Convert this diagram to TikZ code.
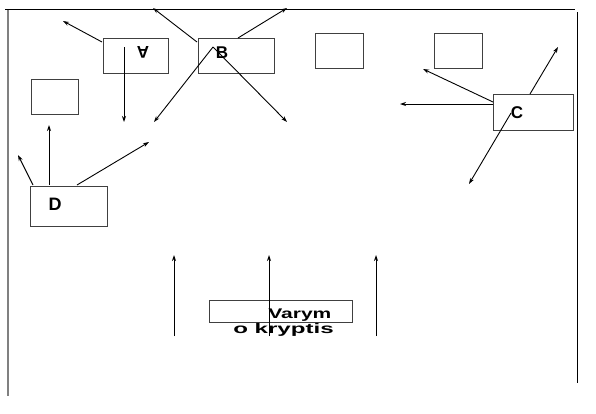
\documentclass[tikz,border=0pt]{standalone}
\usepackage{fontspec}
\setmainfont{Liberation Sans}
\usetikzlibrary{arrows.meta}
\begin{document}
\begin{tikzpicture}[x=1pt,y=-1pt,
  box/.style={draw=black!75, line width=0.9pt, inner sep=0pt},
  arr/.style={-{Stealth[length=6pt,width=4pt]}, line width=0.9pt},
  lbl/.style={font=\bfseries\fontsize{17}{17}\selectfont, inner sep=0pt},
  frame/.style={line width=0.9pt}]
\useasboundingbox (0,0) rectangle (596,413);
% frame
\draw[frame] (5,9) coordinate (f1) -- (575,9) coordinate (f2);
\draw[gray, line width=1.4pt] (8,10) coordinate (f3) -- (8,396) coordinate (f4);
\draw[frame] (577,12) coordinate (f5) -- (577,383) coordinate (f6);
% boxes
\node[box, minimum width=65pt, minimum height=35pt] (A) at (135.5,55.5) {};
\node[box, minimum width=76pt, minimum height=35pt] (B) at (236,55.5) {};
\node[box, minimum width=47pt, minimum height=35pt] (E) at (54.5,96.5) {};
\node[box, minimum width=48pt, minimum height=35pt] (F) at (339,50.5) {};
\node[box, minimum width=48pt, minimum height=35pt] (G) at (458,50.5) {};
\node[box, minimum width=80pt, minimum height=36pt] (C) at (533,112) {};
\node[box, minimum width=77pt, minimum height=40pt] (D) at (68.5,206) {};
\node[box, minimum width=143pt, minimum height=22pt] (V) at (280.5,311) {};
% labels
\node[lbl, rotate=180] (tA) at (143,52.5) {A};
\node[lbl] (tB) at (222,53) {B};
\node[lbl] (tC) at (517,112.5) {C};
\node[lbl, font=\bfseries\fontsize{18}{18}\selectfont] (tD) at (55,204) {D};
\node[lbl, font=\bfseries\fontsize{14}{14}\selectfont, anchor=base west, xscale=1.5] (tV1) at (268,318) {Varym};
\node[lbl, font=\bfseries\fontsize{14}{14}\selectfont, anchor=base west, xscale=1.72] (tV2) at (233,333) {o kryptis};
% coordinates
\coordinate (a1s) at (102,42); \coordinate (a1e) at (63,21);
\coordinate (a2s) at (124,47); \coordinate (a2e) at (124,122);
\coordinate (b1s) at (197,42); \coordinate (b1e) at (153,8);
\coordinate (b2s) at (238,38); \coordinate (b2e) at (287,8);
\coordinate (b3s) at (213,47); \coordinate (b3e) at (154,122);
\coordinate (b4e) at (287,122);
\coordinate (d1s) at (33,185); \coordinate (d1e) at (18,155);
\coordinate (d2s) at (49,185); \coordinate (d2e) at (49,125);
\coordinate (d3s) at (77,185); \coordinate (d3e) at (149,142);
\coordinate (c1s) at (493,104); \coordinate (c1e) at (400,104);
\coordinate (c2s) at (493,102); \coordinate (c2e) at (423,69);
\coordinate (c3s) at (530,94); \coordinate (c3e) at (558,47);
\coordinate (c4s) at (511,113); \coordinate (c4e) at (469,184);
\coordinate (v1s) at (174,336); \coordinate (v1e) at (174,255);
\coordinate (v2s) at (269,336); \coordinate (v2e) at (269,255);
\coordinate (v3s) at (376,336); \coordinate (v3e) at (376,255);
% arrows
\draw[arr] (a1s) -- (a1e);
\draw[arr] (a2s) -- (a2e);
\draw[arr] (b1s) -- (b1e);
\draw[arr] (b2s) -- (b2e);
\draw[arr] (b3s) -- (b3e);
\draw[arr] (b3s) -- (b4e);
\draw[arr] (d1s) -- (d1e);
\draw[arr] (d2s) -- (d2e);
\draw[arr] (d3s) -- (d3e);
\draw[arr] (c1s) -- (c1e);
\draw[arr] (c2s) -- (c2e);
\draw[arr] (c3s) -- (c3e);
\draw[arr] (c4s) -- (c4e);
\draw[arr] (v1s) -- (v1e);
\draw[arr] (v2s) -- (v2e);
\draw[arr] (v3s) -- (v3e);
\end{tikzpicture}
\end{document}
